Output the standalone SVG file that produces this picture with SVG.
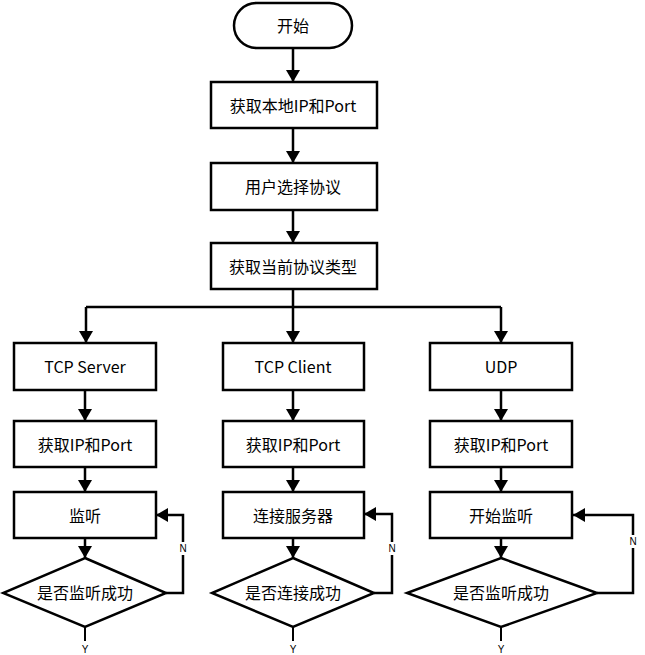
<svg xmlns="http://www.w3.org/2000/svg" width="645" height="655" viewBox="0 0 645 655">
<style>
.box{fill:#fff;stroke:#000;stroke-width:2.5}
.t{font-family:"Microsoft YaHei","Noto Sans CJK SC","Noto Sans",sans-serif;font-size:16px;fill:#000;text-anchor:middle;dominant-baseline:central}
.s{font-family:"Liberation Sans","Noto Sans",sans-serif;font-size:10px;fill:#000;text-anchor:middle;dominant-baseline:central}
.c{fill:none;stroke:#000;stroke-width:2.5}
</style>
<defs>
<marker id="ah" viewBox="0 0 12 14" refX="12" refY="7" markerWidth="12" markerHeight="14" markerUnits="userSpaceOnUse" orient="auto">
<path d="M0,0 L12,7 L0,14 Z" fill="#000"/>
</marker>
</defs>
<g id="connectors">
<path class="c" d="M293,48 V82" marker-end="url(#ah)"/>
<path class="c" d="M293,128 V163" marker-end="url(#ah)"/>
<path class="c" d="M293,210 V243" marker-end="url(#ah)"/>
<path class="c" d="M293,289 V343" marker-end="url(#ah)"/>
<path class="c" d="M86,307 H501"/>
<path class="c" d="M86,307 V343" marker-end="url(#ah)"/>
<path class="c" d="M501,307 V343" marker-end="url(#ah)"/>
<path class="c" d="M85,390 V421" marker-end="url(#ah)"/>
<path class="c" d="M293,390 V421" marker-end="url(#ah)"/>
<path class="c" d="M501,390 V421" marker-end="url(#ah)"/>
<path class="c" d="M85,467 V492" marker-end="url(#ah)"/>
<path class="c" d="M293,467 V492" marker-end="url(#ah)"/>
<path class="c" d="M501,467 V492" marker-end="url(#ah)"/>
<path class="c" d="M85,538 V558" marker-end="url(#ah)"/>
<path class="c" d="M293,538 V558" marker-end="url(#ah)"/>
<path class="c" d="M501,538 V558" marker-end="url(#ah)"/>
<path class="c" d="M166,593 H183 V515 H156" marker-end="url(#ah)"/>
<path class="c" d="M374,593 H392 V514 H364" marker-end="url(#ah)"/>
<path class="c" d="M597,593 H633 V515 H573" marker-end="url(#ah)"/>
<path class="c" style="stroke-width:2" d="M85,627 V641"/>
<path class="c" style="stroke-width:2" d="M293,627 V641"/>
<path class="c" style="stroke-width:2" d="M501,627 V641"/>
<rect x="178" y="542" width="10" height="13" fill="#fff"/>
<text class="s" x="183" y="548">N</text>
<rect x="387" y="542" width="10" height="13" fill="#fff"/>
<text class="s" x="392" y="548">N</text>
<rect x="628" y="535" width="10" height="13" fill="#fff"/>
<text class="s" x="633" y="541">N</text>
<text class="s" x="85" y="649">Y</text>
<text class="s" x="293" y="649">Y</text>
<text class="s" x="501" y="649">Y</text>
</g>
<g id="start"><rect class="box" x="234" y="3" width="118" height="45" rx="22.5"/><text class="t" x="293" y="25">开始</text></g>
<g id="getLocal"><rect class="box" x="211" y="82" width="166" height="46"/><text class="t" x="293" y="105">获取本地IP和Port</text></g>
<g id="choose"><rect class="box" x="211" y="163" width="166" height="47"/><text class="t" x="293" y="186">用户选择协议</text></g>
<g id="getType"><rect class="box" x="211" y="243" width="166" height="46"/><text class="t" x="293" y="266">获取当前协议类型</text></g>
<g id="tcpServer"><rect class="box" x="14" y="343" width="142" height="47"/><text class="t" x="85" y="366">TCP Server</text></g>
<g id="tcpClient"><rect class="box" x="223" y="343" width="141" height="47"/><text class="t" x="293" y="366">TCP Client</text></g>
<g id="udp"><rect class="box" x="430" y="343" width="142" height="47"/><text class="t" x="501" y="366">UDP</text></g>
<g id="ipServer"><rect class="box" x="14" y="421" width="142" height="46"/><text class="t" x="85" y="444">获取IP和Port</text></g>
<g id="ipClient"><rect class="box" x="223" y="421" width="141" height="46"/><text class="t" x="293" y="444">获取IP和Port</text></g>
<g id="ipUdp"><rect class="box" x="430" y="421" width="142" height="46"/><text class="t" x="501" y="444">获取IP和Port</text></g>
<g id="listen"><rect class="box" x="14" y="492" width="142" height="46"/><text class="t" x="85" y="515">监听</text></g>
<g id="connect"><rect class="box" x="223" y="492" width="141" height="46"/><text class="t" x="293" y="515">连接服务器</text></g>
<g id="startListen"><rect class="box" x="430" y="492" width="142" height="46"/><text class="t" x="501" y="515">开始监听</text></g>
<g id="dServer"><polygon class="box" points="85,558 166,593 85,627 3,593"/><text class="t" x="85" y="592">是否监听成功</text></g>
<g id="dClient"><polygon class="box" points="293,558 374,593 293,627 212,593"/><text class="t" x="293" y="592">是否连接成功</text></g>
<g id="dUdp"><polygon class="box" points="501,558 597,593 501,627 407,593"/><text class="t" x="501" y="592">是否监听成功</text></g>
</svg>
